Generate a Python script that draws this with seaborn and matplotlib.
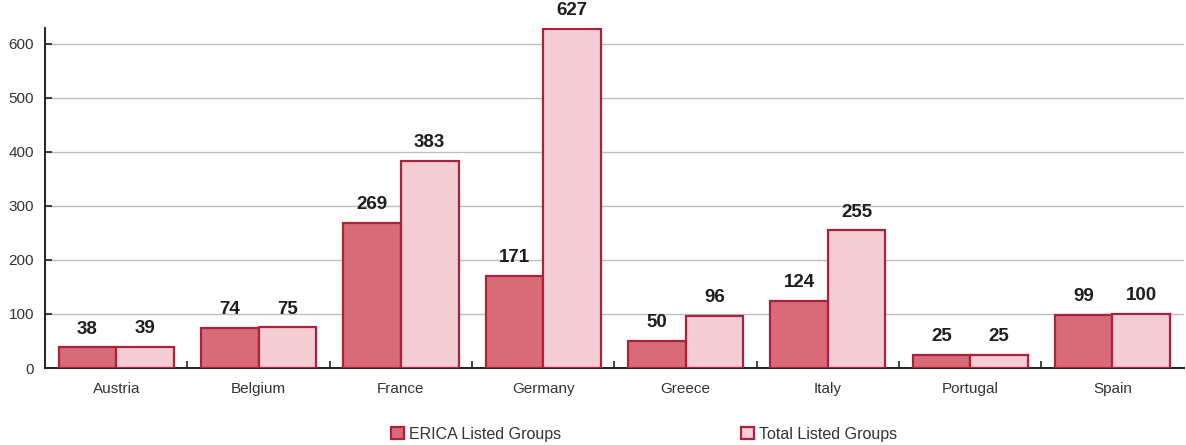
import matplotlib
matplotlib.use("Agg")
import matplotlib.pyplot as plt
from matplotlib.ticker import FixedLocator
import seaborn as sns
import pandas as pd

countries = ["Austria", "Belgium", "France", "Germany", "Greece", "Italy", "Portugal", "Spain"]
erica_listed = [38, 74, 269, 171, 50, 124, 25, 99]
total_listed = [39, 75, 383, 627, 96, 255, 25, 100]
series_names = ["ERICA Listed Groups", "Total Listed Groups"]
y_ticks = [0, 100, 200, 300, 400, 500, 600]

df = pd.DataFrame({
    "country": countries * 2,
    "value": erica_listed + total_listed,
    "series": [series_names[0]] * len(countries) + [series_names[1]] * len(countries),
})

sns.set_theme(style="white")
plt.rcParams["font.family"] = ["Liberation Sans", "DejaVu Sans"]

fig = plt.figure(figsize=(11.86, 4.45), dpi=100)
ax = fig.add_axes([0.038, 0.173, 0.96, 0.765])

palette = {series_names[0]: "#d96b79", series_names[1]: "#f5cdd5"}
sns.barplot(data=df, x="country", y="value", hue="series", palette=palette,
            width=0.81, edgecolor="#a8233c", linewidth=1.6, saturation=1,
            ax=ax, legend=False, zorder=3)

for container in ax.containers:
    ax.bar_label(container, padding=7, fontsize=13.5, fontweight="bold",
                 color="#1e1e1e")

ax.set_xlim(-0.5, len(countries) - 0.5)
ax.set_ylim(0, 630)
ax.set_yticks(y_ticks)
ax.yaxis.grid(True, color="#bdbdbd", linewidth=1.0, zorder=0)
ax.set_axisbelow(True)
ax.set_xlabel("")
ax.set_ylabel("")
for side in ("top", "right"):
    ax.spines[side].set_visible(False)
for side in ("left", "bottom"):
    ax.spines[side].set_color("#222222")
    ax.spines[side].set_linewidth(1.4)

ax.tick_params(axis="y", direction="in", length=5, width=1.2, color="#222222",
               labelsize=11, labelcolor="#333333", pad=8, left=True)
ax.tick_params(axis="x", which="major", length=0, labelsize=11,
               labelcolor="#333333", pad=10)
ax.xaxis.set_minor_locator(FixedLocator([i + 0.5 for i in range(len(countries) - 1)]))
ax.tick_params(axis="x", which="minor", direction="in", length=5, width=1.2,
               color="#222222", bottom=True)

handles = [plt.Rectangle((0, 0), 1, 1, facecolor=palette[s], edgecolor="#a8233c", linewidth=1.6)
           for s in series_names]
fig.legend(handles, series_names, loc="lower center", bbox_to_anchor=(0.543, -0.025),
           ncol=2, frameon=False, fontsize=11.5, handlelength=0.8, handleheight=0.8,
           handletextpad=0.3, columnspacing=11.3, labelcolor="#333333")

fig.savefig("out.png", dpi=100)
